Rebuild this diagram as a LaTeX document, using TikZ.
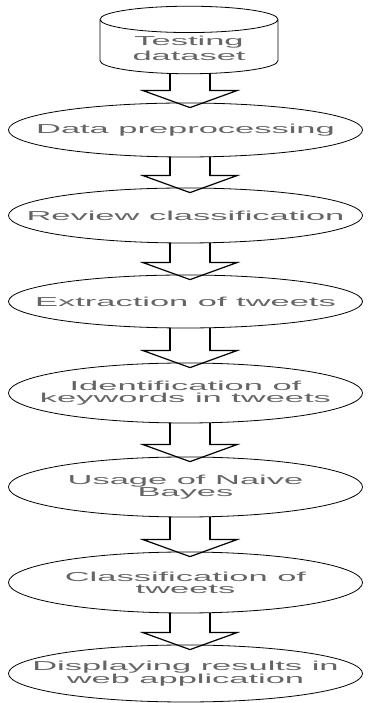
\documentclass[tikz,border=0pt]{standalone}
\usepackage{fontspec}
\usetikzlibrary{shapes.geometric,calc}
\newfontfamily\flowfont[FakeStretch=2.65]{Liberation Sans}
\definecolor{twInk}{HTML}{000000}
\definecolor{twText}{HTML}{656565}
\tikzset{
  tw stage/.style={ellipse, draw=twInk, line width=0.8pt, minimum width=354pt, minimum height=55pt, inner xsep=-50pt, inner ysep=0pt, align=center, text=twText, font=\flowfont\fontsize{13}{12}\selectfont},
  tw store/.style={cylinder, shape border rotate=90, aspect=0.22, draw=twInk, line width=0.8pt, minimum width=178pt, minimum height=64pt, align=center, text=twText, font=\flowfont\fontsize{13}{15}\selectfont},
  tw arrow/.style={draw=twInk, line width=1.2pt, line join=miter},
  tw shaft/.style={draw=twInk, line width=2.6pt},
}
\begin{document}
\begin{tikzpicture}[x=1pt,y=1pt]
  \useasboundingbox (0,0) rectangle (367,703);
  \node[tw store, anchor=shape center] (data) at (189,663) {Testing\\dataset};
  \node[tw stage, minimum height=54pt] (prep) at (185.5,573) {Data preprocessing};
  \node[tw stage] (review) at (185.5,487.5) {Review classification};
  \node[tw stage, minimum height=53pt] (extract) at (185.5,401.5) {Extraction of tweets};
  \node[tw stage, minimum height=60pt] (keywords) at (185.5,310) {Identification of\\keywords in tweets};
  \node[tw stage, minimum height=60pt] (bayes) at (185.5,216) {Usage of Naive\\Bayes};
  \node[tw stage, minimum height=61pt] (classify) at (185.5,120.5) {Classification of\\tweets};
  \node[tw stage, minimum height=57pt] (display) at (185.5,29.5) {Displaying results in\\web application};
  % block arrows between the steps
  \foreach \a/\b in {data/prep, prep/review, review/extract, extract/keywords, keywords/bayes, bayes/classify, classify/display} {
    \coordinate (tip) at ($(\b.north)+(4.5,-5)$);
    \coordinate (top) at (\a.south -| tip);
    \draw[tw arrow] ($(top)+(-20,0)$) -- ($(tip)+(-20,17)$) -- ($(tip)+(-47,17)$) -- (tip)
      -- ($(tip)+(47,17)$) -- ($(tip)+(20,17)$) -- ($(top)+(20,0)$);
    \draw[tw shaft] ($(top)+(-20,0)$) -- ($(tip)+(-20,17)$) ($(tip)+(20,17)$) -- ($(top)+(20,0)$);
  }
\end{tikzpicture}
\end{document}
